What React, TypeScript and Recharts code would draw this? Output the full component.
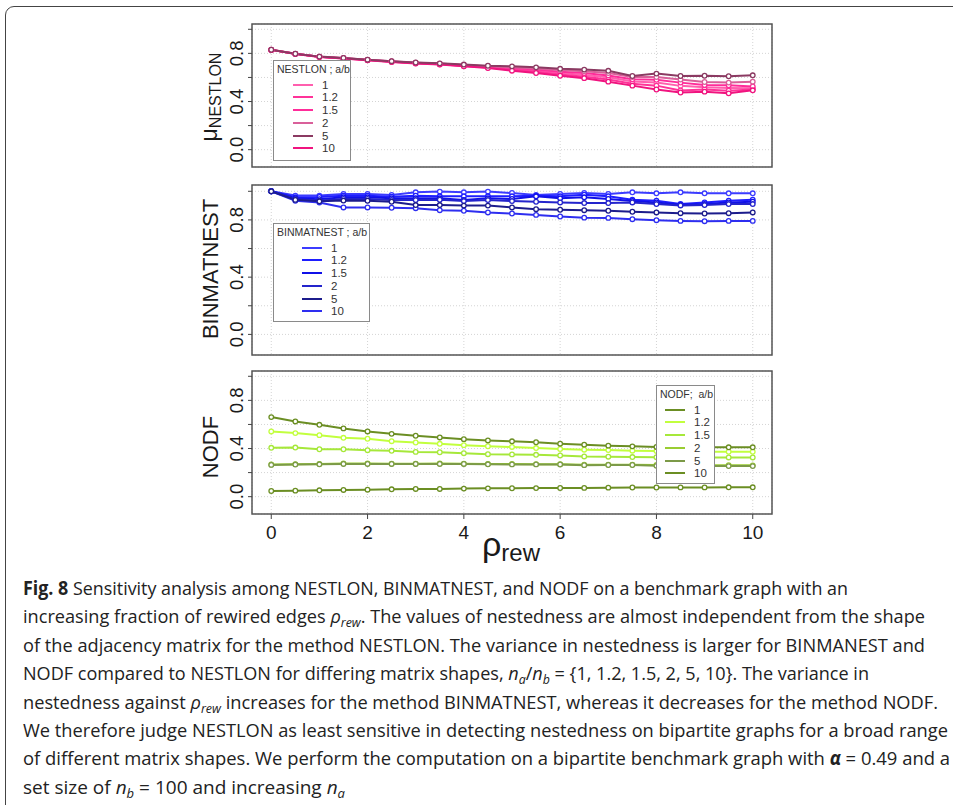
import React from 'react'
import { LineChart, Line, XAxis, YAxis, CartesianGrid, ReferenceArea } from 'recharts'

const FONT = '"Liberation Sans", Arial, Helvetica, sans-serif'

// fraction of rewired edges
const rho = [0, 0.5, 1, 1.5, 2, 2.5, 3, 3.5, 4, 4.5, 5, 5.5, 6, 6.5, 7, 7.5, 8, 8.5, 9, 9.5, 10]
const ratios = ['1', '1.2', '1.5', '2', '5', '10']
const xTicks = [0, 2, 4, 6, 8, 10]
const yTicks = [0, 0.2, 0.4, 0.6, 0.8, 1.0]
const yLabelled = [0, 0.4, 0.8]

// NESTLON, one array per a/b
const nestlon1 = [0.829, 0.796, 0.771, 0.759, 0.745, 0.731, 0.72, 0.711, 0.698, 0.686, 0.671, 0.658, 0.636, 0.62, 0.601, 0.567, 0.558, 0.53, 0.518, 0.513, 0.51]
const nestlon12 = [0.829, 0.796, 0.771, 0.758, 0.744, 0.73, 0.718, 0.709, 0.695, 0.682, 0.663, 0.648, 0.625, 0.606, 0.582, 0.548, 0.532, 0.492, 0.5, 0.49, 0.5]
const nestlon15 = [0.83, 0.796, 0.772, 0.76, 0.746, 0.733, 0.721, 0.713, 0.701, 0.69, 0.678, 0.667, 0.648, 0.636, 0.617, 0.585, 0.58, 0.557, 0.537, 0.535, 0.525]
const nestlon2 = [0.83, 0.797, 0.772, 0.761, 0.747, 0.734, 0.723, 0.715, 0.704, 0.693, 0.684, 0.675, 0.662, 0.652, 0.636, 0.603, 0.603, 0.582, 0.562, 0.557, 0.565]
const nestlon5 = [0.83, 0.797, 0.773, 0.762, 0.748, 0.735, 0.724, 0.717, 0.707, 0.697, 0.692, 0.684, 0.672, 0.665, 0.655, 0.612, 0.632, 0.612, 0.614, 0.61, 0.618]
const nestlon10 = [0.829, 0.795, 0.77, 0.757, 0.743, 0.729, 0.716, 0.707, 0.692, 0.678, 0.656, 0.637, 0.614, 0.594, 0.565, 0.532, 0.5, 0.475, 0.482, 0.468, 0.493]

// BINMATNEST
const binmat1 = [1.0, 0.97, 0.97, 0.981, 0.981, 0.974, 0.993, 0.998, 0.993, 0.998, 0.988, 0.974, 0.981, 0.988, 0.981, 0.993, 0.986, 0.993, 0.986, 0.986, 0.986]
const binmat12 = [1.0, 0.958, 0.96, 0.969, 0.969, 0.962, 0.969, 0.965, 0.965, 0.965, 0.965, 0.969, 0.965, 0.976, 0.965, 0.941, 0.934, 0.911, 0.922, 0.934, 0.941]
const binmat15 = [1.0, 0.951, 0.945, 0.958, 0.958, 0.951, 0.951, 0.951, 0.939, 0.951, 0.946, 0.965, 0.951, 0.958, 0.946, 0.932, 0.922, 0.906, 0.911, 0.922, 0.927]
const binmat2 = [1.0, 0.944, 0.935, 0.946, 0.946, 0.939, 0.939, 0.941, 0.932, 0.939, 0.932, 0.927, 0.922, 0.918, 0.918, 0.922, 0.911, 0.901, 0.904, 0.911, 0.911]
const binmat5 = [1.0, 0.94, 0.93, 0.935, 0.934, 0.927, 0.904, 0.904, 0.9, 0.9, 0.887, 0.875, 0.871, 0.868, 0.864, 0.857, 0.852, 0.847, 0.845, 0.847, 0.852]
const binmat10 = [1.0, 0.934, 0.922, 0.887, 0.887, 0.885, 0.882, 0.868, 0.864, 0.852, 0.845, 0.835, 0.824, 0.816, 0.814, 0.805, 0.798, 0.793, 0.791, 0.793, 0.793]

// NODF
const nodf1 = [0.661, 0.625, 0.597, 0.567, 0.542, 0.522, 0.506, 0.492, 0.478, 0.467, 0.46, 0.452, 0.44, 0.432, 0.424, 0.418, 0.413, 0.411, 0.41, 0.41, 0.41]
const nodf12 = [0.542, 0.528, 0.511, 0.489, 0.481, 0.461, 0.45, 0.439, 0.428, 0.419, 0.413, 0.404, 0.396, 0.39, 0.387, 0.382, 0.379, 0.376, 0.374, 0.373, 0.373]
const nodf15 = [0.406, 0.408, 0.394, 0.394, 0.386, 0.381, 0.372, 0.369, 0.361, 0.353, 0.351, 0.348, 0.343, 0.334, 0.332, 0.329, 0.328, 0.327, 0.326, 0.326, 0.326]
const nodf2 = [0.267, 0.27, 0.272, 0.275, 0.275, 0.274, 0.274, 0.275, 0.274, 0.272, 0.271, 0.27, 0.269, 0.266, 0.265, 0.265, 0.263, 0.262, 0.261, 0.261, 0.26]
const nodf5 = [0.264, 0.267, 0.269, 0.272, 0.272, 0.272, 0.272, 0.272, 0.272, 0.269, 0.268, 0.268, 0.268, 0.262, 0.263, 0.263, 0.256, 0.256, 0.255, 0.254, 0.254]
const nodf10 = [0.047, 0.05, 0.053, 0.056, 0.058, 0.061, 0.064, 0.064, 0.067, 0.069, 0.07, 0.071, 0.072, 0.073, 0.075, 0.076, 0.076, 0.077, 0.077, 0.078, 0.078]

const pinkColors = ['#ff5fae', '#ff3399', '#ff2d9a', '#d9609a', '#8b3a62', '#f0147f']
const blueColors = ['#3c3cff', '#1e1eff', '#1010e8', '#2424cc', '#1c1c8c', '#2e2ef0']
const greenColors = ['#6b8e23', '#c2ff3e', '#a6e83a', '#9acd32', '#7c9a48', '#6b8e23']

const keys = ['r1', 'r12', 'r15', 'r2', 'r5', 'r10']

const buildRows = (series: number[][]) =>
  rho.map((r, i) => {
    const row: any = { rho: r }
    keys.forEach((k, j) => (row[k] = series[j][i]))
    return row
  })

const nestlonRows = buildRows([nestlon1, nestlon12, nestlon15, nestlon2, nestlon5, nestlon10])
const binmatRows = buildRows([binmat1, binmat12, binmat15, binmat2, binmat5, binmat10])
const nodfRows = buildRows([nodf1, nodf12, nodf15, nodf2, nodf5, nodf10])

const PLOT_LEFT = 252
const PLOT_RIGHT = 772
const CHART_W = 953

function Panel({ top, height, data, colors, order, showX }: any) {
  const mTop = 10
  const chartTop = top - mTop
  const yTick = (p: any) => {
    const v = p.payload.value
    if (!yLabelled.some((l) => Math.abs(l - v) < 1e-6)) return <g />
    return (
      <text x={243} y={p.y} transform={`rotate(-90 243 ${p.y})`} textAnchor="middle" fontSize={18.5} fill="#1a1a1a" fontFamily={FONT}>
        {v.toFixed(1)}
      </text>
    )
  }
  const xTick = (p: any) => (
    <text x={p.x} y={539 - chartTop} textAnchor="middle" fontSize={19} fill="#1a1a1a" fontFamily={FONT}>
      {p.payload.value}
    </text>
  )
  return (
    <div style={{ position: 'absolute', left: 0, top: chartTop }}>
      <LineChart
        width={CHART_W}
        height={height + mTop + (showX ? 40 : 10)}
        data={data}
        margin={{ top: mTop, right: CHART_W - PLOT_RIGHT, bottom: showX ? 0 : 10, left: PLOT_LEFT - 40 }}
      >
        <CartesianGrid stroke="#d4d4d4" strokeDasharray="1 2" />
        <XAxis
          dataKey="rho"
          type="number"
          domain={[-0.4, 10.4]}
          ticks={xTicks}
          allowDataOverflow
          hide={!showX}
          height={40}
          axisLine={false}
          tickSize={5}
          tickLine={{ stroke: '#444' }}
          tick={xTick}
        />
        <YAxis
          type="number"
          domain={[-0.144, 1.044]}
          ticks={yTicks}
          allowDataOverflow
          width={40}
          axisLine={false}
          tickSize={4}
          tickLine={{ stroke: '#444' }}
          tick={yTick}
        />
        <ReferenceArea x1={-0.4} x2={10.4} y1={-0.144} y2={1.044} fill="none" stroke="#555" strokeWidth={1.5} />
        {order.map((j: number) => (
          <Line
            key={keys[j]}
            dataKey={keys[j]}
            stroke={colors[j]}
            strokeWidth={2}
            dot={{ r: 2.3, fill: '#fff', stroke: colors[j], strokeWidth: 1.3 }}
            isAnimationActive={false}
          />
        ))}
      </LineChart>
    </div>
  )
}

function LegendBox({ left, top, width, height, title, colors, lineX, textX }: any) {
  return (
    <div
      style={{
        position: 'absolute', left, top, width, height, boxSizing: 'border-box',
        border: '1px solid #8a8a8a', background: '#fff', fontFamily: FONT, color: '#333',
      }}
    >
      <div style={{ position: 'absolute', left: 3, top: 1, fontSize: 10.5, lineHeight: '14px', whiteSpace: 'pre' }}>{title}</div>
      {ratios.map((r, i) => (
        <React.Fragment key={r}>
          <div style={{ position: 'absolute', left: lineX, top: 23.5 + 12.75 * i - 1, width: 20, height: 2, background: colors[i] }} />
          <div style={{ position: 'absolute', left: textX, top: 23.5 + 12.75 * i - 7, fontSize: 11.5, lineHeight: '14px' }}>{r}</div>
        </React.Fragment>
      ))}
    </div>
  )
}

// base letter + italic subscript; text after it must carry dy={4} back up
const sub = (b: string, s: string) => [
  <tspan key={b + s + 'b'} fontStyle="italic">{b}</tspan>,
  <tspan key={b + s + 's'} fontStyle="italic" fontSize={13} dy={4}>{s}</tspan>,
]

const capX = 23
const capY0 = 595
const capStep = 28.4

export default function App() {
  return (
    <div style={{ position: 'absolute', left: 0, top: 0, width: 953, height: 805, overflow: 'hidden', background: '#fff' }}>
      <div style={{ position: 'absolute', left: 5, top: 6, width: 980, height: 830, border: '1.5px solid #444', borderRadius: 9 }} />

      <Panel top={24} height={143} data={nestlonRows} colors={pinkColors} order={[0, 1, 2, 3, 5, 4]} showX={false} />
      <Panel top={185} height={170} data={binmatRows} colors={blueColors} order={[0, 1, 2, 3, 5, 4]} showX={false} />
      <Panel top={371} height={143} data={nodfRows} colors={greenColors} order={[1, 2, 3, 4, 0, 5]} showX={true} />

      <LegendBox left={273} top={60} width={78} height={101} title="NESTLON ; a/b" colors={pinkColors} lineX={19} textX={48} />
      <LegendBox left={273} top={223} width={97} height={99} title="BINMATNEST ; a/b" colors={blueColors} lineX={28} textX={57} />
      <LegendBox left={656} top={385} width={59} height={99} title="NODF;  a/b" colors={greenColors} lineX={8} textX={37} />

      <svg width={953} height={805} style={{ position: 'absolute', left: 0, top: 0, pointerEvents: 'none' }} fontFamily={FONT}>
        <text x={217} y={97} transform="rotate(-90 217 97)" textAnchor="middle" fontSize={23} fill="#1a1a1a">
          μ<tspan fontSize={16} dy={4}>NESTLON</tspan>
        </text>
        <text x={218} y={269} transform="rotate(-90 218 269)" textAnchor="middle" fontSize={22} fill="#1a1a1a">BINMATNEST</text>
        <text x={218} y={447} transform="rotate(-90 218 447)" textAnchor="middle" fontSize={22} fill="#1a1a1a">NODF</text>
        <text x={511} y={556} textAnchor="middle" fontSize={34} fill="#1a1a1a">
          ρ<tspan fontSize={24} dy={5}>rew</tspan>
        </text>

        <g fontSize={19} fill="#222" fontFamily='"Open Sans", "Liberation Sans", sans-serif'>
          <text x={capX} y={capY0} textLength={848 - capX} lengthAdjust="spacingAndGlyphs">
            <tspan fontWeight="bold">Fig. 8</tspan> Sensitivity analysis among NESTLON, BINMATNEST, and NODF on a benchmark graph with an
          </text>
          <text x={capX} y={capY0 + capStep} textLength={925 - capX} lengthAdjust="spacingAndGlyphs">
            increasing fraction of rewired edges {sub('ρ', 'rew')}
            <tspan dy={-4}>. The values of nestedness are almost independent from the shape</tspan>
          </text>
          <text x={capX} y={capY0 + capStep * 2} textLength={925 - capX} lengthAdjust="spacingAndGlyphs">
            of the adjacency matrix for the method NESTLON. The variance in nestedness is larger for BINMANEST and
          </text>
          <text x={capX} y={capY0 + capStep * 3} textLength={869 - capX} lengthAdjust="spacingAndGlyphs">
            NODF compared to NESTLON for differing matrix shapes, {sub('n', 'a')}
            <tspan dy={-4}>/</tspan>
            {sub('n', 'b')}
            <tspan dy={-4}> = {'{'}1, 1.2, 1.5, 2, 5, 10{'}'}. The variance in</tspan>
          </text>
          <text x={capX} y={capY0 + capStep * 4} textLength={938 - capX} lengthAdjust="spacingAndGlyphs">
            nestedness against {sub('ρ', 'rew')}
            <tspan dy={-4}> increases for the method BINMATNEST, whereas it decreases for the method NODF.</tspan>
          </text>
          <text x={capX} y={capY0 + capStep * 5} textLength={948 - capX} lengthAdjust="spacingAndGlyphs">
            We therefore judge NESTLON as least sensitive in detecting nestedness on bipartite graphs for a broad range
          </text>
          <text x={capX} y={capY0 + capStep * 6} textLength={950 - capX} lengthAdjust="spacingAndGlyphs">
            of different matrix shapes. We perform the computation on a bipartite benchmark graph with{' '}
            <tspan fontStyle="italic" fontWeight="bold">α</tspan> = 0.49 and a
          </text>
          <text x={capX} y={capY0 + capStep * 7} textLength={345 - capX} lengthAdjust="spacingAndGlyphs">
            set size of {sub('n', 'b')}
            <tspan dy={-4}> = 100 and increasing </tspan>
            {sub('n', 'a')}
          </text>
        </g>
      </svg>
    </div>
  )
}
